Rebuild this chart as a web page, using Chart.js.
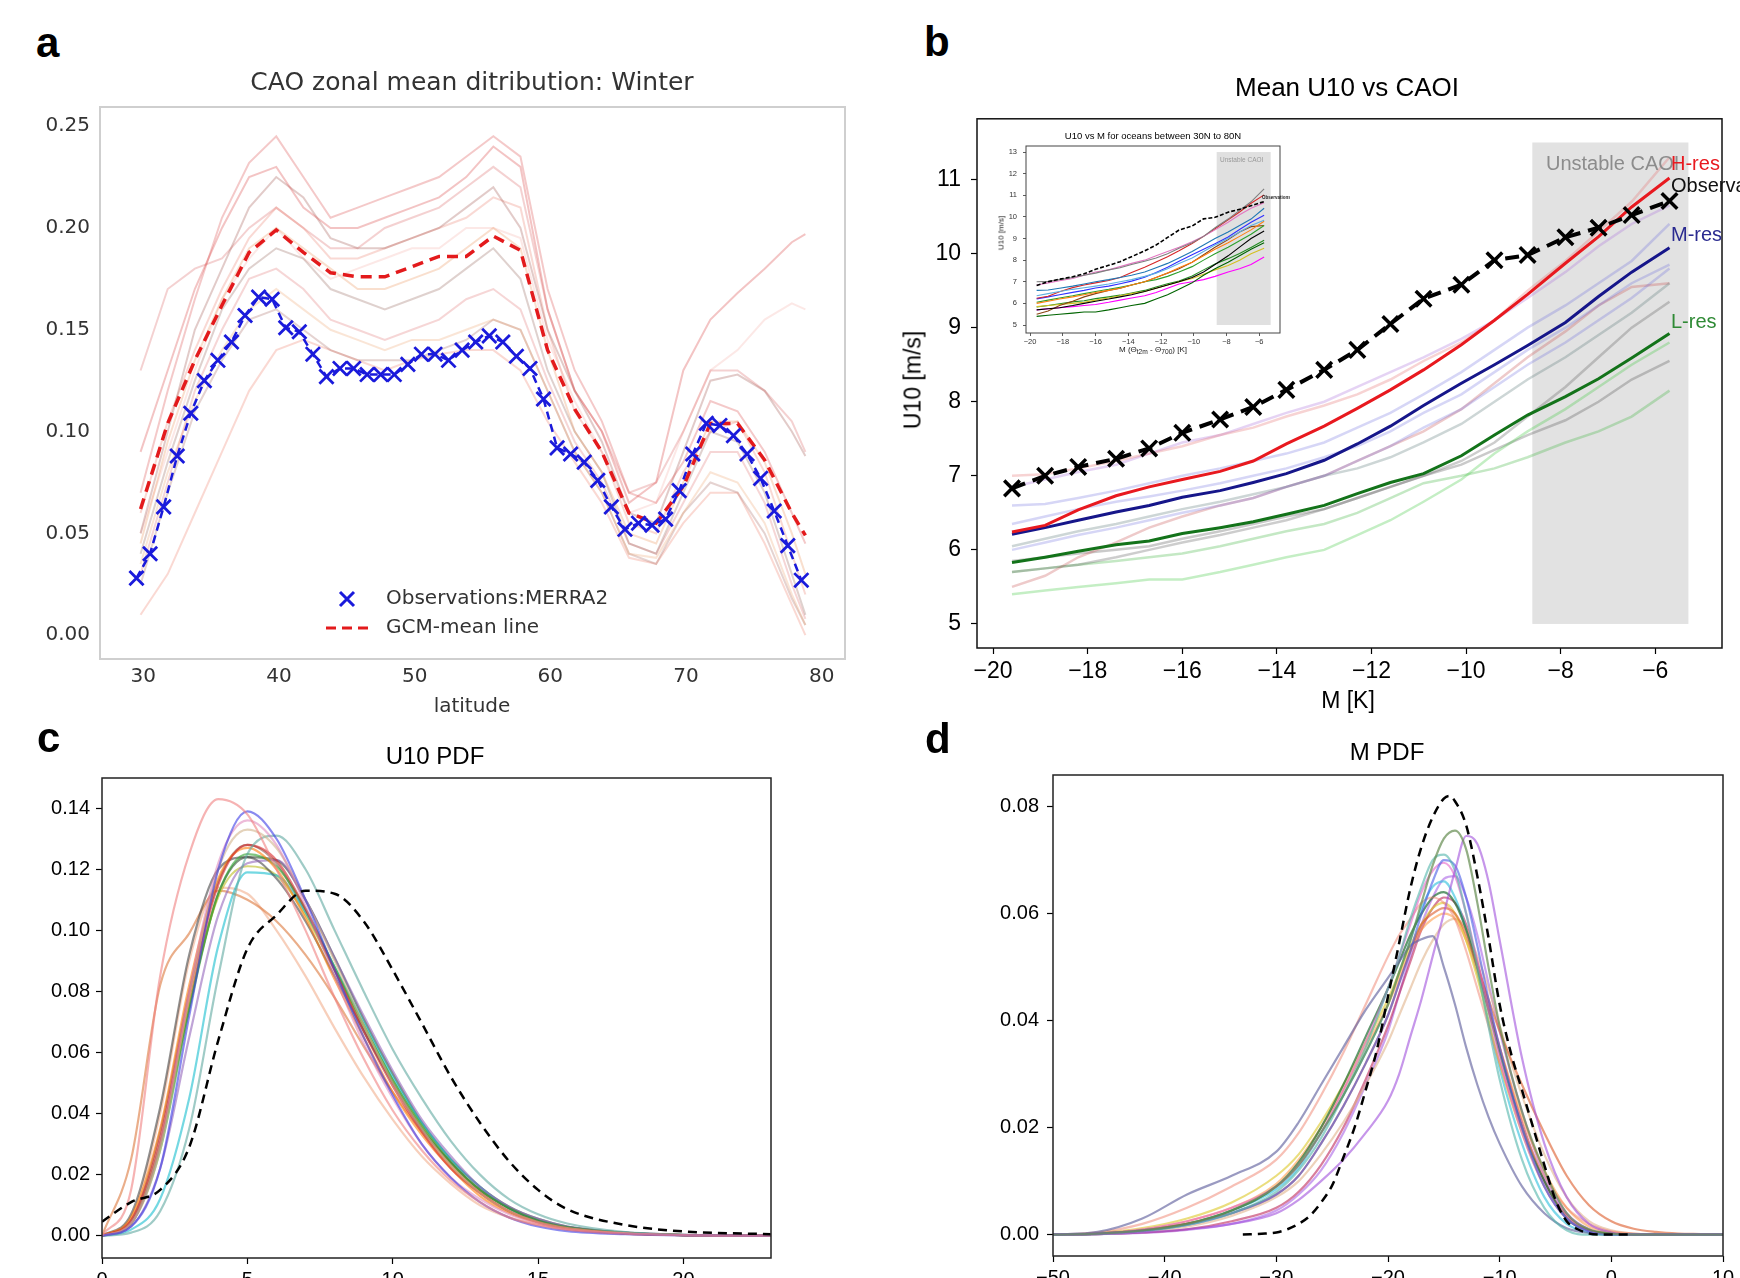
<!DOCTYPE html>
<html>
<head>
  <meta charset="UTF-8">
  <title>CAO, U10 and M figure</title>
  <script src="https://cdn.jsdelivr.net/npm/chart.js"></script>
  <style>
    html, body { margin: 0; padding: 0; background: #fff; }
    #page { position: relative; width: 1740px; height: 1278px; overflow: hidden; background: #fff; }
    .box { position: absolute; }
    .txt { position: absolute; white-space: nowrap; line-height: 1; }
  </style>
</head>
<body>
<div id="page"></div>
<script>
  // ---- panel a: CAO zonal mean distribution ----
  const latObs = [29.5, 30.5, 31.5, 32.5, 33.5, 34.5, 35.5, 36.5, 37.5, 38.5, 39.5, 40.5, 41.5, 42.5, 43.5, 44.5, 45.5, 46.5, 47.5, 48.5,
                  49.5, 50.5, 51.5, 52.5, 53.5, 54.5, 55.5, 56.5, 57.5, 58.5, 59.5, 60.5, 61.5, 62.5, 63.5, 64.5, 65.5, 66.5, 67.5, 68.5,
                  69.5, 70.5, 71.5, 72.5, 73.5, 74.5, 75.5, 76.5, 77.5, 78.5];
  const caoObs = [0.028, 0.040, 0.063, 0.088, 0.109, 0.125, 0.135, 0.144, 0.157, 0.166, 0.165, 0.151, 0.149, 0.138, 0.127, 0.131, 0.131, 0.128, 0.128, 0.128,
                  0.133, 0.138, 0.138, 0.135, 0.140, 0.144, 0.147, 0.144, 0.137, 0.131, 0.116, 0.092, 0.089, 0.085, 0.076, 0.063, 0.052, 0.055, 0.054, 0.057,
                  0.071, 0.089, 0.104, 0.103, 0.098, 0.089, 0.077, 0.061, 0.044, 0.027];
  const latModel = [29.8, 31.8, 33.8, 35.8, 37.8, 39.8, 41.8, 43.8, 45.8, 47.8, 49.8, 51.8, 53.8, 55.8, 57.8, 59.8, 61.8, 63.8, 65.8, 67.8,
                    69.8, 71.8, 73.8, 75.8, 77.8, 78.8];
  const caoGcmMean = [0.062, 0.104, 0.135, 0.162, 0.188, 0.199, 0.188, 0.178, 0.176, 0.176, 0.181, 0.186, 0.186, 0.196, 0.189, 0.140, 0.111, 0.090, 0.060, 0.055,
                      0.073, 0.104, 0.104, 0.086, 0.060, 0.049];
  const caoModels = [
    [0.07, 0.12, 0.165, 0.205, 0.232, 0.245, 0.225, 0.205, 0.21, 0.215, 0.22, 0.225, 0.235, 0.245, 0.235, 0.17, 0.13, 0.105, 0.07, 0.065, 0.085, 0.115, 0.11, 0.09, 0.06, 0.045],
    [0.09, 0.13, 0.17, 0.2, 0.225, 0.23, 0.21, 0.2, 0.2, 0.205, 0.21, 0.215, 0.225, 0.24, 0.23, 0.16, 0.12, 0.1, 0.065, 0.075, 0.13, 0.155, 0.168, 0.18, 0.193, 0.197],
    [0.05, 0.1, 0.15, 0.18, 0.21, 0.225, 0.215, 0.195, 0.19, 0.19, 0.195, 0.2, 0.21, 0.22, 0.2, 0.15, 0.12, 0.095, 0.06, 0.055, 0.09, 0.125, 0.128, 0.12, 0.1, 0.088],
    [0.06, 0.105, 0.14, 0.17, 0.195, 0.21, 0.2, 0.185, 0.185, 0.19, 0.195, 0.2, 0.205, 0.215, 0.21, 0.15, 0.11, 0.09, 0.055, 0.05, 0.08, 0.1, 0.105, 0.08, 0.04, 0.02],
    [0.045, 0.095, 0.135, 0.165, 0.19, 0.2, 0.19, 0.18, 0.17, 0.17, 0.175, 0.18, 0.19, 0.2, 0.19, 0.14, 0.1, 0.08, 0.05, 0.045, 0.075, 0.105, 0.105, 0.085, 0.05, 0.03],
    [0.04, 0.085, 0.125, 0.16, 0.18, 0.19, 0.185, 0.17, 0.165, 0.16, 0.165, 0.17, 0.18, 0.19, 0.175, 0.13, 0.1, 0.08, 0.045, 0.04, 0.07, 0.1, 0.095, 0.07, 0.03, 0.01],
    [0.03, 0.075, 0.12, 0.15, 0.175, 0.18, 0.17, 0.155, 0.15, 0.145, 0.15, 0.155, 0.165, 0.17, 0.16, 0.125, 0.095, 0.075, 0.045, 0.04, 0.065, 0.09, 0.09, 0.065, 0.025, 0.008],
    [0.035, 0.08, 0.115, 0.14, 0.16, 0.17, 0.16, 0.15, 0.145, 0.14, 0.145, 0.145, 0.15, 0.155, 0.15, 0.12, 0.09, 0.07, 0.04, 0.038, 0.06, 0.08, 0.075, 0.055, 0.02, 0.005],
    [0.025, 0.07, 0.11, 0.135, 0.155, 0.16, 0.15, 0.14, 0.135, 0.135, 0.135, 0.14, 0.145, 0.155, 0.15, 0.12, 0.09, 0.07, 0.04, 0.035, 0.06, 0.075, 0.07, 0.05, 0.018, 0.005],
    [0.01, 0.03, 0.06, 0.09, 0.12, 0.14, 0.145, 0.14, 0.135, 0.13, 0.135, 0.138, 0.14, 0.14, 0.13, 0.105, 0.085, 0.065, 0.038, 0.035, 0.055, 0.07, 0.07, 0.045, 0.015, 0.0],
    [0.13, 0.17, 0.18, 0.185, 0.2, 0.21, 0.2, 0.19, 0.19, 0.2, 0.205, 0.21, 0.22, 0.23, 0.22, 0.16, 0.12, 0.1, 0.07, 0.075, 0.1, 0.13, 0.13, 0.12, 0.105, 0.09],
    [0.05, 0.09, 0.13, 0.165, 0.185, 0.2, 0.185, 0.175, 0.18, 0.185, 0.19, 0.19, 0.2, 0.2, 0.195, 0.145, 0.115, 0.09, 0.06, 0.065, 0.1, 0.13, 0.14, 0.155, 0.163, 0.16]
  ];
  const latTicks = [30, 40, 50, 60, 70, 80];
  const caoTicks = [0, 0.05, 0.10, 0.15, 0.20, 0.25];

  // ---- panel b: mean U10 vs M ----
  const mBins = [-19.6, -18.9, -18.2, -17.4, -16.7, -16.0, -15.2, -14.5, -13.8, -13.0, -12.3, -11.6, -10.9, -10.1, -9.4, -8.7, -7.9, -7.2, -6.5, -5.7];
  const u10Obs  = [6.83, 7.00, 7.12, 7.23, 7.37, 7.58, 7.76, 7.93, 8.16, 8.43, 8.70, 9.05, 9.39, 9.58, 9.91, 9.98, 10.22, 10.35, 10.52, 10.71];
  const u10Hres = [6.24, 6.33, 6.54, 6.73, 6.85, 6.95, 7.06, 7.20, 7.43, 7.67, 7.91, 8.16, 8.43, 8.77, 9.10, 9.45, 9.87, 10.23, 10.63, 11.02];
  const u10Mres = [6.21, 6.30, 6.40, 6.51, 6.60, 6.71, 6.80, 6.91, 7.03, 7.21, 7.43, 7.67, 7.95, 8.25, 8.50, 8.76, 9.07, 9.42, 9.75, 10.08];
  const u10Lres = [5.83, 5.90, 5.98, 6.07, 6.12, 6.22, 6.30, 6.38, 6.48, 6.60, 6.76, 6.91, 7.03, 7.27, 7.55, 7.82, 8.07, 8.31, 8.59, 8.92];
  const u10Models = [
    [7.0, 7.02, 7.1, 7.2, 7.3, 7.4, 7.55, 7.65, 7.8, 7.95, 8.1, 8.3, 8.55, 8.8, 9.1, 9.5, 9.9, 10.3, 10.7, 11.3],
    [6.85, 6.95, 7.05, 7.15, 7.3, 7.45, 7.55, 7.7, 7.85, 8.0, 8.2, 8.4, 8.6, 8.85, 9.1, 9.4, 9.75, 10.1, 10.4, 10.65],
    [6.6, 6.62, 6.7, 6.8, 6.9, 7.0, 7.1, 7.2, 7.3, 7.45, 7.65, 7.85, 8.1, 8.4, 8.7, 9.0, 9.3, 9.6, 9.9, 10.4],
    [6.35, 6.45, 6.55, 6.65, 6.72, 6.8, 6.9, 7.0, 7.1, 7.25, 7.4, 7.6, 7.85, 8.1, 8.4, 8.7, 9.0, 9.3, 9.6, 9.85],
    [6.0, 6.1, 6.2, 6.3, 6.4, 6.5, 6.6, 6.7, 6.85, 7.0, 7.2, 7.4, 7.65, 7.9, 8.2, 8.5, 8.8, 9.1, 9.4, 9.8],
    [6.05, 6.15, 6.25, 6.35, 6.45, 6.55, 6.65, 6.75, 6.85, 7.0, 7.1, 7.25, 7.45, 7.7, 8.0, 8.3, 8.6, 8.9, 9.2, 9.6],
    [5.7, 5.75, 5.8, 5.9, 6.0, 6.1, 6.2, 6.3, 6.4, 6.55, 6.7, 6.85, 7.0, 7.2, 7.45, 7.8, 8.2, 8.6, 9.0, 9.35],
    [5.5, 5.65, 5.9, 6.1, 6.3, 6.45, 6.6, 6.7, 6.85, 7.0, 7.2, 7.4, 7.6, 7.9, 8.25, 8.6, 8.95, 9.3, 9.55, 9.6],
    [5.4, 5.45, 5.5, 5.55, 5.6, 5.6, 5.7, 5.8, 5.9, 6.0, 6.2, 6.4, 6.65, 6.95, 7.3, 7.6, 7.9, 8.2, 8.5, 8.8],
    [5.7, 5.75, 5.8, 5.85, 5.9, 5.95, 6.05, 6.15, 6.25, 6.35, 6.5, 6.7, 6.9, 7.0, 7.1, 7.25, 7.45, 7.6, 7.8, 8.15],
    [5.85, 5.9, 5.95, 6.0, 6.05, 6.15, 6.25, 6.35, 6.45, 6.55, 6.7, 6.85, 7.0, 7.15, 7.35, 7.55, 7.75, 8.0, 8.3, 8.55]
  ];
  const mTicks = [-20, -18, -16, -14, -12, -10, -8, -6];
  const u10Ticks = [5, 6, 7, 8, 9, 10, 11];
  const insetU10Ticks = [5, 6, 7, 8, 9, 10, 11, 12, 13];
  const unstableM = [-8.6, -5.3];
  const unstableU10 = [5, 11.5];
  const insetUnstableU10 = [5, 13];

  // ---- panel c: U10 PDF ----
  const u10Grid = [0, 1, 2, 3, 4, 5, 6, 7, 8, 9, 10, 11, 12, 13, 14, 15, 16, 18, 20, 23];
  const u10PdfObs = [0.0046, 0.011, 0.015, 0.029, 0.064, 0.094, 0.105, 0.113, 0.112, 0.103, 0.087, 0.0696, 0.052, 0.037, 0.0244, 0.015, 0.0087, 0.0035, 0.0014, 0.0005];
  const u10PdfModels = [
    [0, 0.015, 0.085, 0.125, 0.143, 0.138, 0.12, 0.1, 0.078, 0.058, 0.041, 0.028, 0.018, 0.011, 0.006, 0.0035, 0.002, 0.0007, 0.0002, 0],
    [0, 0.003, 0.022, 0.072, 0.12, 0.139, 0.13, 0.11, 0.087, 0.065, 0.046, 0.03, 0.019, 0.011, 0.006, 0.003, 0.0015, 0.0005, 0.0001, 0],
    [0, 0.004, 0.03, 0.08, 0.122, 0.136, 0.128, 0.108, 0.085, 0.063, 0.045, 0.03, 0.019, 0.012, 0.007, 0.004, 0.002, 0.0007, 0.0002, 0],
    [0, 0.004, 0.028, 0.078, 0.12, 0.133, 0.127, 0.11, 0.09, 0.069, 0.05, 0.035, 0.023, 0.014, 0.008, 0.0045, 0.0025, 0.0008, 0.0002, 0],
    [0, 0.001, 0.008, 0.035, 0.085, 0.125, 0.131, 0.12, 0.1, 0.08, 0.061, 0.045, 0.031, 0.02, 0.012, 0.007, 0.004, 0.0012, 0.0003, 0],
    [0, 0.005, 0.032, 0.078, 0.115, 0.128, 0.123, 0.107, 0.087, 0.067, 0.049, 0.034, 0.022, 0.014, 0.008, 0.0045, 0.0025, 0.0008, 0.0002, 0],
    [0, 0.006, 0.035, 0.082, 0.117, 0.127, 0.12, 0.104, 0.084, 0.065, 0.047, 0.033, 0.022, 0.013, 0.0075, 0.0042, 0.0023, 0.0007, 0.0002, 0],
    [0, 0.004, 0.028, 0.074, 0.112, 0.125, 0.121, 0.107, 0.088, 0.069, 0.051, 0.036, 0.024, 0.015, 0.009, 0.005, 0.0028, 0.0009, 0.0002, 0],
    [0, 0.003, 0.022, 0.065, 0.105, 0.122, 0.123, 0.11, 0.091, 0.072, 0.054, 0.038, 0.026, 0.016, 0.0095, 0.0055, 0.003, 0.001, 0.0003, 0],
    [0, 0.007, 0.042, 0.092, 0.12, 0.124, 0.117, 0.103, 0.085, 0.067, 0.05, 0.035, 0.024, 0.015, 0.009, 0.005, 0.0028, 0.0009, 0.0002, 0],
    [0, 0.002, 0.012, 0.045, 0.095, 0.119, 0.118, 0.106, 0.088, 0.07, 0.052, 0.037, 0.025, 0.016, 0.009, 0.005, 0.0028, 0.0009, 0.0002, 0],
    [0, 0.004, 0.03, 0.076, 0.111, 0.121, 0.118, 0.105, 0.087, 0.069, 0.051, 0.036, 0.024, 0.015, 0.009, 0.005, 0.0028, 0.0009, 0.0002, 0],
    [0, 0.025, 0.082, 0.099, 0.113, 0.11, 0.103, 0.092, 0.078, 0.062, 0.047, 0.034, 0.023, 0.014, 0.008, 0.0045, 0.0025, 0.0008, 0.0002, 0],
    [0, 0.006, 0.04, 0.09, 0.114, 0.112, 0.1, 0.085, 0.068, 0.052, 0.038, 0.026, 0.017, 0.01, 0.006, 0.0035, 0.002, 0.0006, 0.0002, 0],
    [0, 0.005, 0.034, 0.08, 0.116, 0.128, 0.122, 0.106, 0.087, 0.068, 0.05, 0.035, 0.023, 0.014, 0.008, 0.0045, 0.0025, 0.0008, 0.0002, 0],
    [0, 0.004, 0.03, 0.075, 0.112, 0.124, 0.123, 0.11, 0.091, 0.071, 0.053, 0.037, 0.025, 0.016, 0.0095, 0.0055, 0.003, 0.001, 0.0003, 0]
  ];
  const u10PdfTicksX = [0, 5, 10, 15, 20];
  const u10PdfTicksY = [0, 0.02, 0.04, 0.06, 0.08, 0.10, 0.12, 0.14];

  // ---- panel d: M PDF ----
  const mGrid = [-50, -46, -42, -38, -34, -30, -28, -26, -24, -22, -20, -19, -18, -17, -16, -15, -14, -13, -12, -11, -10, -8, -6, -4, -2, 0, 2, 4, 6, 8, 10];
  const mObsGrid = [-33, -31, -30, -29, -28, -27, -26, -25, -24, -23, -22, -21, -20, -19, -18, -17, -16, -15, -14.5, -14, -13, -12, -11, -10, -9, -8, -7, -6, -5, -4, -3, -2, -1, 0, 2];
  const mPdfObs = [0, 0.0002, 0.0004, 0.001, 0.002, 0.0035, 0.006, 0.0092, 0.0144, 0.02, 0.027, 0.0345, 0.0445, 0.0545, 0.0647, 0.0725, 0.078, 0.0815, 0.082, 0.081,
                   0.0765, 0.067, 0.0555, 0.043, 0.034, 0.027, 0.02, 0.013, 0.0065, 0.0025, 0.001, 0.0002, 0, 0, 0];
  const mPdfModels = [
    [0, 0.0002, 0.0008, 0.002, 0.0045, 0.009, 0.013, 0.019, 0.026, 0.034, 0.043, 0.049, 0.055, 0.062, 0.069, 0.074, 0.0755, 0.072, 0.062, 0.05, 0.039, 0.023, 0.012, 0.004, 0.001, 0.0002, 0, 0, 0, 0, 0],
    [0, 0.0001, 0.0004, 0.001, 0.002, 0.004, 0.0065, 0.01, 0.014, 0.019, 0.025, 0.03, 0.037, 0.044, 0.052, 0.06, 0.068, 0.0745, 0.073, 0.066, 0.055, 0.033, 0.017, 0.007, 0.002, 0.0004, 0, 0, 0, 0, 0],
    [0, 0.0001, 0.0006, 0.0018, 0.004, 0.008, 0.012, 0.018, 0.026, 0.035, 0.046, 0.052, 0.059, 0.065, 0.07, 0.071, 0.068, 0.06, 0.05, 0.039, 0.029, 0.014, 0.005, 0.0008, 0, 0, 0, 0, 0, 0, 0],
    [0, 0.0002, 0.0007, 0.0018, 0.004, 0.0075, 0.011, 0.017, 0.024, 0.032, 0.041, 0.047, 0.053, 0.06, 0.066, 0.07, 0.069, 0.063, 0.054, 0.044, 0.035, 0.02, 0.009, 0.003, 0.0006, 0, 0, 0, 0, 0, 0],
    [0, 0.0002, 0.001, 0.0025, 0.005, 0.009, 0.013, 0.019, 0.027, 0.036, 0.046, 0.052, 0.058, 0.064, 0.068, 0.0695, 0.067, 0.06, 0.051, 0.042, 0.033, 0.019, 0.009, 0.003, 0.0007, 0, 0, 0, 0, 0, 0],
    [0, 0.0005, 0.003, 0.0075, 0.011, 0.0155, 0.021, 0.028, 0.035, 0.042, 0.048, 0.051, 0.054, 0.0552, 0.0558, 0.05, 0.043, 0.035, 0.028, 0.022, 0.017, 0.009, 0.004, 0.0012, 0.0003, 0, 0, 0, 0, 0, 0],
    [0, 0.0004, 0.002, 0.005, 0.009, 0.014, 0.019, 0.026, 0.034, 0.043, 0.052, 0.056, 0.059, 0.062, 0.063, 0.062, 0.059, 0.053, 0.046, 0.039, 0.032, 0.02, 0.011, 0.005, 0.002, 0.0006, 0.0002, 0, 0, 0, 0],
    [0, 0.0002, 0.0008, 0.002, 0.004, 0.0075, 0.011, 0.017, 0.024, 0.032, 0.041, 0.047, 0.053, 0.058, 0.06, 0.061, 0.06, 0.056, 0.05, 0.044, 0.038, 0.028, 0.019, 0.011, 0.0055, 0.0025, 0.0011, 0.0005, 0.0002, 0.0001, 0],
    [0, 0.0002, 0.0008, 0.002, 0.0045, 0.009, 0.0135, 0.02, 0.028, 0.037, 0.046, 0.051, 0.056, 0.06, 0.063, 0.064, 0.062, 0.057, 0.05, 0.042, 0.034, 0.02, 0.01, 0.003, 0.0008, 0.0001, 0, 0, 0, 0, 0],
    [0, 0.0003, 0.0012, 0.003, 0.006, 0.011, 0.015, 0.021, 0.028, 0.036, 0.044, 0.049, 0.054, 0.058, 0.061, 0.062, 0.06, 0.055, 0.048, 0.04, 0.032, 0.019, 0.009, 0.003, 0.0008, 0.0001, 0, 0, 0, 0, 0],
    [0, 0.0002, 0.0009, 0.0025, 0.005, 0.0095, 0.014, 0.02, 0.027, 0.035, 0.043, 0.048, 0.053, 0.057, 0.059, 0.06, 0.059, 0.055, 0.049, 0.042, 0.035, 0.022, 0.012, 0.005, 0.0015, 0.0004, 0.0001, 0, 0, 0, 0],
    [0, 0.0001, 0.0006, 0.0015, 0.0035, 0.007, 0.01, 0.015, 0.021, 0.028, 0.036, 0.041, 0.046, 0.051, 0.055, 0.058, 0.059, 0.057, 0.052, 0.046, 0.039, 0.026, 0.015, 0.007, 0.0025, 0.0008, 0.0002, 0, 0, 0, 0],
    [0, 0.0002, 0.0008, 0.002, 0.0045, 0.0085, 0.0125, 0.019, 0.026, 0.034, 0.043, 0.049, 0.055, 0.061, 0.065, 0.066, 0.063, 0.057, 0.049, 0.04, 0.031, 0.017, 0.007, 0.002, 0.0004, 0, 0, 0, 0, 0, 0],
    [0, 0.0001, 0.0004, 0.001, 0.0025, 0.005, 0.008, 0.013, 0.02, 0.029, 0.039, 0.045, 0.051, 0.057, 0.061, 0.063, 0.062, 0.058, 0.051, 0.043, 0.035, 0.021, 0.01, 0.0035, 0.0008, 0.0001, 0, 0, 0, 0, 0],
    [0, 0.0001, 0.0003, 0.0009, 0.002, 0.0045, 0.0075, 0.012, 0.019, 0.028, 0.038, 0.045, 0.052, 0.058, 0.063, 0.0665, 0.067, 0.063, 0.056, 0.047, 0.038, 0.023, 0.011, 0.004, 0.001, 0.0002, 0, 0, 0, 0, 0]
  ];
  const mPdfTicksX = [-50, -40, -30, -20, -10, 0, 10];
  const mPdfTicksY = [0, 0.02, 0.04, 0.06, 0.08];

  // ---- styles ----
  const caoModelColors = ['rgba(215,60,60,0.28)', 'rgba(215,60,60,0.3)', 'rgba(150,70,60,0.28)', 'rgba(235,120,100,0.28)',
                          'rgba(235,140,80,0.28)', 'rgba(140,90,80,0.28)', 'rgba(220,90,90,0.25)', 'rgba(235,150,90,0.25)',
                          'rgba(150,80,70,0.25)', 'rgba(240,130,110,0.3)', 'rgba(210,70,70,0.25)', 'rgba(240,150,140,0.22)'];
  const u10ModelColors = ['rgba(230,110,110,0.3)', 'rgba(170,110,220,0.3)', 'rgba(90,90,220,0.25)', 'rgba(90,90,220,0.25)',
                          'rgba(90,90,220,0.25)', 'rgba(90,120,120,0.3)', 'rgba(90,90,90,0.3)', 'rgba(200,80,80,0.3)',
                          'rgba(60,200,60,0.3)', 'rgba(60,180,60,0.3)', 'rgba(80,80,80,0.3)'];
  const insetColors = ['#7f7f7f', '#e377c2', '#1f77b4', '#5fb0e0', '#ff7f0e', '#2ca02c', '#000000', '#8b4513', '#006400', '#ff00ff', '#d4c020'];
  const u10PdfColors = ['rgba(240,128,128,0.6)', 'rgba(60,60,230,0.6)', 'rgba(220,120,180,0.5)', 'rgba(210,180,140,0.6)',
                        'rgba(95,168,160,0.6)', 'rgba(214,39,40,0.6)', 'rgba(255,127,14,0.6)', 'rgba(44,160,44,0.6)',
                        'rgba(148,103,189,0.6)', 'rgba(70,70,70,0.6)', 'rgba(23,190,207,0.6)', 'rgba(188,189,34,0.6)',
                        'rgba(220,120,60,0.6)', 'rgba(240,160,120,0.5)', 'rgba(140,86,75,0.6)', 'rgba(47,79,47,0.6)'];
  const mPdfColors = ['rgba(100,140,80,0.7)', 'rgba(160,80,220,0.6)', 'rgba(80,180,170,0.6)', 'rgba(70,90,230,0.6)',
                      'rgba(230,100,200,0.6)', 'rgba(100,100,160,0.65)', 'rgba(240,130,110,0.5)', 'rgba(220,90,40,0.6)',
                      'rgba(30,110,50,0.7)', 'rgba(220,200,40,0.6)', 'rgba(255,150,60,0.55)', 'rgba(225,180,140,0.6)',
                      'rgba(40,190,220,0.6)', 'rgba(190,40,90,0.6)', 'rgba(170,100,230,0.6)'];

  const obsBlue = '#1a1adb';
  const meanRed = '#e31a1c';
  const hresRed = '#e8191f';
  const mresNavy = '#16168a';
  const lresGreen = '#13731a';
  const DJ = '"DejaVu Sans", sans-serif';
  const LS = '"Liberation Sans", Arial, sans-serif';

  Chart.defaults.animation = false;
  Chart.defaults.font.family = LS;

  const page = document.getElementById('page');

  function pts(xs, ys) { return xs.map((x, i) => ({ x: x, y: ys[i] })); }

  function makeCanvas(box, bg) {
    const d = document.createElement('div');
    d.className = 'box';
    d.style.left = box.l + 'px';
    d.style.top = box.t + 'px';
    d.style.width = box.w + 'px';
    d.style.height = box.h + 'px';
    if (bg) d.style.background = bg;
    const c = document.createElement('canvas');
    d.appendChild(c);
    page.appendChild(d);
    return c;
  }

  function padFor(box, frame, yW, xH) {
    return { left: frame.l - box.l - yW, top: frame.t - box.t, right: box.l + box.w - frame.r, bottom: box.t + box.h - frame.b - xH };
  }

  function addText(str, x, y, css, transform, html) {
    const d = document.createElement('div');
    d.className = 'txt';
    if (html) d.innerHTML = str; else d.textContent = str;
    d.style.cssText += css;
    d.style.left = x + 'px';
    d.style.top = y + 'px';
    d.style.transform = transform || 'translate(-50%,-50%)';
    page.appendChild(d);
  }

  function linScale(o) {
    return {
      type: 'linear', bounds: 'data', min: o.min, max: o.max,
      afterBuildTicks: s => { s.ticks = o.ticks.map(v => ({ value: v })); },
      afterFit: s => { if (o.w !== undefined) s.width = o.w; if (o.h !== undefined) s.height = o.h; },
      grid: { display: o.tick > 0, drawOnChartArea: false, drawTicks: o.tick > 0, tickLength: o.tick,
              tickColor: o.tickColor || '#000', tickWidth: o.tickWidth || 1.2 },
      border: { display: false },
      ticks: { autoSkip: false, maxRotation: 0, minRotation: 0, padding: o.pad, color: o.color, font: o.font, callback: o.fmt }
    };
  }

  function framePlugin(color, width) {
    return {
      id: 'frame',
      afterDatasetsDraw(chart) {
        const a = chart.chartArea, ctx = chart.ctx;
        ctx.save();
        ctx.strokeStyle = color;
        ctx.lineWidth = width;
        ctx.strokeRect(a.left, a.top, a.right - a.left, a.bottom - a.top);
        ctx.restore();
      }
    };
  }

  function shadePlugin(xr, yr, color) {
    return {
      id: 'shade',
      beforeDatasetsDraw(chart) {
        const x = chart.scales.x, y = chart.scales.y, ctx = chart.ctx;
        const l = x.getPixelForValue(xr[0]), r = x.getPixelForValue(xr[1]);
        const t = y.getPixelForValue(yr[1]), b = y.getPixelForValue(yr[0]);
        ctx.save();
        ctx.fillStyle = color;
        ctx.fillRect(l, t, r - l, b - t);
        ctx.restore();
      }
    };
  }

  function line(xs, ys, color, width, dash, smooth) {
    const ds = { data: pts(xs, ys), borderColor: color, borderWidth: width, borderDash: dash || [], pointRadius: 0, fill: false };
    if (smooth) ds.cubicInterpolationMode = 'monotone';
    return ds;
  }

  function baseOptions(pad, xs, ys) {
    return {
      responsive: true, maintainAspectRatio: false, animation: false,
      layout: { padding: pad },
      plugins: { legend: { display: false }, tooltip: { enabled: false }, title: { display: false } },
      scales: { x: xs, y: ys }
    };
  }

  const fmt2 = v => v.toFixed(2);
  const fmtInt = v => (v < 0 ? '\u2212' : '') + Math.abs(v);

  // ================= panel a =================
  const boxA = { l: 20, t: 85, w: 850, h: 635 };
  const frameA = { l: 100, t: 105, r: 845, b: 659 };
  const legendA = {
    id: 'legendA',
    afterDraw(chart) {
      const ctx = chart.ctx, ox = boxA.l, oy = boxA.t;
      const mx = 347 - ox, my = 599 - oy, r = 7;
      ctx.save();
      ctx.strokeStyle = obsBlue; ctx.lineWidth = 3;
      ctx.beginPath();
      ctx.moveTo(mx - r, my - r); ctx.lineTo(mx + r, my + r);
      ctx.moveTo(mx + r, my - r); ctx.lineTo(mx - r, my + r);
      ctx.stroke();
      ctx.strokeStyle = meanRed; ctx.lineWidth = 3; ctx.setLineDash([10, 6]);
      ctx.beginPath(); ctx.moveTo(326 - ox, 628 - oy); ctx.lineTo(368 - ox, 628 - oy); ctx.stroke();
      ctx.setLineDash([]);
      ctx.fillStyle = '#333'; ctx.font = '20px ' + DJ; ctx.textBaseline = 'middle'; ctx.textAlign = 'left';
      ctx.fillText('Observations:MERRA2', 386 - ox, 599 - oy);
      ctx.fillText('GCM-mean line', 386 - ox, 628 - oy);
      ctx.restore();
    }
  };
  const dsA = [
    Object.assign(line(latObs, caoObs, obsBlue, 2.5, [8, 5]), { pointStyle: 'crossRot', pointRadius: 10, pointBorderWidth: 2.8, pointBorderColor: obsBlue, pointBackgroundColor: obsBlue }),
    line(latModel, caoGcmMean, meanRed, 3.5, [11, 7])
  ];
  caoModels.forEach((ys, i) => dsA.push(line(latModel, ys, caoModelColors[i], 2)));
  new Chart(makeCanvas(boxA), {
    type: 'line',
    data: { datasets: dsA },
    options: baseOptions(padFor(boxA, frameA, 80, 40),
      linScale({ min: 26.81, max: 81.72, ticks: latTicks, h: 40, tick: 0, pad: 6, color: '#333', font: { family: DJ, size: 20 }, fmt: v => String(v) }),
      linScale({ min: -0.0117, max: 0.2594, ticks: caoTicks, w: 80, tick: 0, pad: 10, color: '#333', font: { family: DJ, size: 20 }, fmt: fmt2 })),
    plugins: [framePlugin('#cfcfcf', 2), legendA]
  });

  // ================= panel b =================
  const boxB = { l: 880, t: 95, w: 920, h: 625 };
  const frameB = { l: 977, t: 110, r: 1722, b: 648 };
  const notesB = {
    id: 'notesB',
    afterDatasetsDraw(chart) {
      const ctx = chart.ctx, ox = boxB.l, oy = boxB.t;
      ctx.save();
      ctx.font = '20px ' + LS; ctx.textBaseline = 'middle'; ctx.textAlign = 'left';
      ctx.fillStyle = '#8c8c8c'; ctx.fillText('Unstable CAOI', 1546 - ox, 164 - oy);
      ctx.fillStyle = hresRed; ctx.fillText('H-res', 1671 - ox, 164 - oy);
      ctx.fillStyle = '#111'; ctx.fillText('Observations', 1671 - ox, 186 - oy);
      ctx.fillStyle = '#2b2b90'; ctx.fillText('M-res', 1671 - ox, 235 - oy);
      ctx.fillStyle = '#2f8a35'; ctx.fillText('L-res', 1671 - ox, 322 - oy);
      ctx.restore();
    }
  };
  const dsB = [
    Object.assign(line(mBins, u10Obs, '#000', 4, [14, 8]), { pointStyle: 'crossRot', pointRadius: 11, pointBorderWidth: 3.5, pointBorderColor: '#000', pointBackgroundColor: '#000' }),
    line(mBins, u10Hres, hresRed, 3),
    line(mBins, u10Mres, mresNavy, 3),
    line(mBins, u10Lres, lresGreen, 3)
  ];
  u10Models.forEach((ys, i) => dsB.push(line(mBins, ys, u10ModelColors[i], 2.5)));
  new Chart(makeCanvas(boxB), {
    type: 'line',
    data: { datasets: dsB },
    options: baseOptions(padFor(boxB, frameB, 80, 45),
      linScale({ min: -20.34, max: -4.59, ticks: mTicks, h: 45, tick: 6, pad: 4, color: '#000', font: { family: LS, size: 23 }, fmt: fmtInt }),
      linScale({ min: 4.675, max: 11.82, ticks: u10Ticks, w: 80, tick: 6, pad: 10, color: '#000', font: { family: LS, size: 23 }, fmt: v => String(v) })),
    plugins: [shadePlugin(unstableM, unstableU10, '#e2e2e2'), framePlugin('#111', 1.5), notesB]
  });

  // inset of panel b
  const boxI = { l: 990, t: 122, w: 300, h: 240 };
  const frameI = { l: 1026, t: 146, r: 1280, b: 333 };
  const notesI = {
    id: 'notesI',
    afterDatasetsDraw(chart) {
      const ctx = chart.ctx, ox = boxI.l, oy = boxI.t;
      ctx.save();
      ctx.font = '6.5px ' + LS; ctx.textBaseline = 'middle'; ctx.textAlign = 'left';
      ctx.fillStyle = '#999'; ctx.fillText('Unstable CAOI', 1220 - ox, 160 - oy);
      ctx.font = 'bold 4.5px ' + LS; ctx.fillStyle = '#222'; ctx.fillText('Observations', 1262 - ox, 198 - oy);
      ctx.restore();
    }
  };
  const dsI = [line(mBins, u10Obs, '#000', 1.6, [4, 2])];
  u10Models.forEach((ys, i) => dsI.push(line(mBins, ys, insetColors[i], 1.1)));
  dsI.push(line(mBins, u10Hres, '#d62728', 1.1));
  dsI.push(line(mBins, u10Mres, '#3030ff', 1.1));
  dsI.push(line(mBins, u10Lres, '#228b22', 1.1));
  new Chart(makeCanvas(boxI, '#fff'), {
    type: 'line',
    data: { datasets: dsI },
    options: baseOptions(padFor(boxI, frameI, 26, 18),
      linScale({ min: -20.25, max: -4.73, ticks: mTicks, h: 18, tick: 3, pad: 1, color: '#333', font: { family: LS, size: 7.5 }, fmt: fmtInt, tickColor: '#333', tickWidth: 0.8 }),
      linScale({ min: 4.63, max: 13.28, ticks: insetU10Ticks, w: 26, tick: 3, pad: 6, color: '#333', font: { family: LS, size: 7.5 }, fmt: v => String(v), tickColor: '#333', tickWidth: 0.8 })),
    plugins: [shadePlugin(unstableM, insetUnstableU10, '#e0e0e0'), framePlugin('#444', 1), notesI]
  });

  // ================= panel c =================
  const boxC = { l: 10, t: 760, w: 790, h: 560 };
  const frameC = { l: 102, t: 776, r: 771, b: 1258 };
  const dsC = [line(u10Grid, u10PdfObs, '#000', 2.5, [9, 6], true)];
  u10PdfModels.forEach((ys, i) => dsC.push(line(u10Grid, ys, u10PdfColors[i], 2.2, null, true)));
  new Chart(makeCanvas(boxC), {
    type: 'line',
    data: { datasets: dsC },
    options: baseOptions(padFor(boxC, frameC, 70, 40),
      linScale({ min: 0, max: 23.01, ticks: u10PdfTicksX, h: 40, tick: 6, pad: 4, color: '#000', font: { family: LS, size: 20 }, fmt: v => String(v) }),
      linScale({ min: -0.0073, max: 0.1499, ticks: u10PdfTicksY, w: 70, tick: 6, pad: 6, color: '#000', font: { family: LS, size: 20 }, fmt: fmt2 })),
    plugins: [framePlugin('#222', 1.5)]
  });

  // ================= panel d =================
  const boxD = { l: 960, t: 755, w: 800, h: 565 };
  const frameD = { l: 1053, t: 773, r: 1723, b: 1256 };
  const dsD = [line(mObsGrid, mPdfObs, '#000', 2.5, [9, 6], true)];
  mPdfModels.forEach((ys, i) => dsD.push(line(mGrid, ys, mPdfColors[i], 2.2, null, true)));
  new Chart(makeCanvas(boxD), {
    type: 'line',
    data: { datasets: dsD },
    options: baseOptions(padFor(boxD, frameD, 70, 40),
      linScale({ min: -50, max: 10, ticks: mPdfTicksX, h: 40, tick: 6, pad: 4, color: '#000', font: { family: LS, size: 20 }, fmt: fmtInt }),
      linScale({ min: -0.004, max: 0.0859, ticks: mPdfTicksY, w: 70, tick: 6, pad: 8, color: '#000', font: { family: LS, size: 20 }, fmt: fmt2 })),
    plugins: [framePlugin('#222', 1.5)]
  });

  // ================= text outside the plots =================
  const letterCss = 'font: bold 42px ' + LS + '; color:#000;';
  addText('a', 36, 43, letterCss, 'translate(0,-50%)');
  addText('b', 924, 42, letterCss, 'translate(0,-50%)');
  addText('c', 37, 738, letterCss, 'translate(0,-50%)');
  addText('d', 925, 739, letterCss, 'translate(0,-50%)');

  addText('CAO zonal mean ditribution: Winter', 472, 81, 'font: 25px ' + DJ + '; color:#333;');
  addText('latitude', 472, 705, 'font: 20px ' + DJ + '; color:#333;');

  addText('Mean U10 vs CAOI', 1347, 87, 'font: 26px ' + LS + '; color:#000;');
  addText('U10 [m/s]', 913, 380, 'font: 23px ' + LS + '; color:#000;', 'translate(-50%,-50%) rotate(-90deg)');
  addText('M [K]', 1348, 700, 'font: 23px ' + LS + '; color:#000;');

  addText('U10 vs M for oceans between 30N to 80N', 1153, 135, 'font: 9.5px ' + LS + '; color:#000;');
  addText('U10 [m/s]', 1001, 233, 'font: 8px ' + LS + '; color:#222;', 'translate(-50%,-50%) rotate(-90deg)');
  addText('M (&Theta;<sub>t2m</sub> - &Theta;<sub>700</sub>) [K]', 1153, 350, 'font: 8px ' + LS + '; color:#222;', null, true);

  addText('U10 PDF', 435, 756, 'font: 24px ' + LS + '; color:#000;');
  addText('M PDF', 1387, 752, 'font: 24px ' + LS + '; color:#000;');
</script>
</body>
</html>
